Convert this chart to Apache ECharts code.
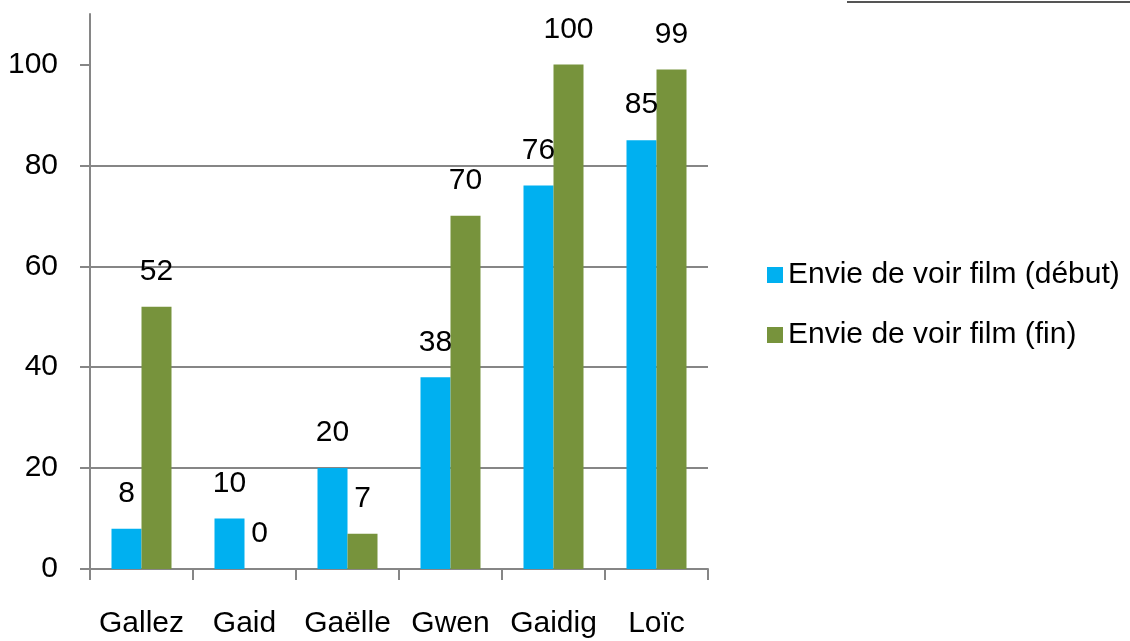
<!DOCTYPE html>
<html>
<head>
<meta charset="utf-8">
<script src="https://cdn.jsdelivr.net/npm/echarts@6/dist/echarts.min.js"></script>
<style>
  html, body { margin: 0; padding: 0; background: #fff; }
  #chart { width: 1130px; height: 641px; }
</style>
</head>
<body>
<div id="chart"></div>
<script>
// données
const categories = ['Gallez', 'Gaid', 'Gaëlle', 'Gwen', 'Gaidig', 'Loïc']
const seriesNames = ['Envie de voir film (début)', 'Envie de voir film (fin)']
const debut = [8, 10, 20, 38, 76, 85]
const fin = [52, 0, 7, 70, 100, 99]
const yTicks = [0, 20, 40, 60, 80, 100]

const font = 'Liberation Sans'
const gris = '#868686'
const taille = 30

const chart = echarts.init(document.getElementById('chart'))

chart.setOption({
  animation: false,
  textStyle: { fontFamily: font },
  grid: { left: 90, right: 422, top: 14, bottom: 72 },
  legend: {
    orient: 'vertical',
    left: 762,
    top: 255,
    itemWidth: 16,
    itemHeight: 16,
    itemGap: 30,
    icon: 'rect',
    textStyle: { fontSize: taille, color: '#000', fontFamily: font },
    data: seriesNames
  },
  xAxis: {
    type: 'category',
    data: categories,
    axisLine: { lineStyle: { color: gris, width: 2 } },
    axisTick: { show: true, interval: 0, length: 11, lineStyle: { color: gris, width: 2 } },
    axisLabel: { color: '#000', fontSize: taille, margin: 40, interval: 0 }
  },
  yAxis: {
    type: 'value',
    min: 0,
    max: 110,
    interval: 20,
    axisLine: { show: true, lineStyle: { color: gris, width: 2 } },
    axisTick: { show: true, length: 10, customValues: yTicks, lineStyle: { color: gris, width: 2 } },
    axisLabel: { color: '#000', fontSize: taille, margin: 32, customValues: yTicks },
    splitLine: { show: true, showMaxLine: false, lineStyle: { color: gris, width: 2 } }
  },
  series: [
    {
      name: seriesNames[0],
      type: 'bar',
      data: debut,
      barWidth: 30,
      barGap: '0%',
      itemStyle: { color: '#00B0F0' },
      label: { show: true, position: 'top', distance: 20, color: '#000', fontSize: taille }
    },
    {
      name: seriesNames[1],
      type: 'bar',
      data: fin,
      barWidth: 30,
      barGap: '0%',
      itemStyle: { color: '#77933C' },
      label: { show: true, position: 'top', distance: 20, color: '#000', fontSize: taille }
    }
  ],
  graphic: [
    {
      type: 'line',
      shape: { x1: 847, y1: 2, x2: 1130, y2: 2 },
      style: { stroke: '#555', lineWidth: 2 }
    }
  ]
})
</script>
</body>
</html>
